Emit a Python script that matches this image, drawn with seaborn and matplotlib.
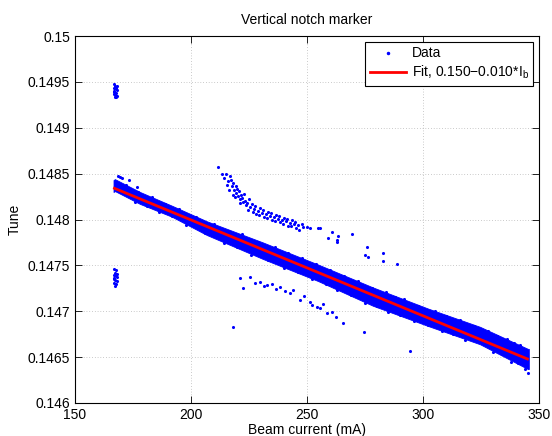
import numpy as np
import pandas as pd
import matplotlib
matplotlib.use("Agg")
import matplotlib.pyplot as plt
from matplotlib.lines import Line2D
import seaborn as sns

# --- data ---
x_ticks = [150, 200, 250, 300, 350]
y_ticks = [0.146, 0.1465, 0.147, 0.1475, 0.148, 0.1485, 0.149, 0.1495, 0.15]
y_tick_labels = ["0.146", "0.1465", "0.147", "0.1475", "0.148",
                 "0.1485", "0.149", "0.1495", "0.15"]

# dense main band (upper / lower edge of the point cloud)
band_x = [166.6, 167.2, 178.0, 191.8, 206.9, 231.0, 254.7, 278.4, 302.1, 324.6, 345.2, 345.6]
band_top = [0.14843, 0.14844, 0.14830, 0.14815, 0.14798, 0.14775, 0.14751,
            0.14726, 0.14703, 0.14683, 0.14659, 0.14659]
band_bot = [0.14830, 0.14831, 0.14817, 0.14803, 0.14783, 0.14757, 0.14733,
            0.14706, 0.14684, 0.14664, 0.14637, 0.14637]

# points along the band edges
edge_x = [176, 186, 198, 214, 226, 240, 252, 263, 275, 285, 296, 308, 318, 330, 338, 344,
          181, 192, 206, 220, 233, 246, 258, 269, 280, 290, 302, 313, 324, 334, 341,
          172, 183, 195, 210, 222, 236, 248, 260, 272, 284, 292, 305, 316, 328, 336, 342,
          177, 189, 202, 216, 229, 242, 254, 266, 278, 288, 298, 310, 322, 332, 339,
          168.5, 169.4, 170.3, 173.3, 176.7, 345.2]
edge_t = [0.14819, 0.14808, 0.14794, 0.14774, 0.14761, 0.14747, 0.14735, 0.14723,
          0.14709, 0.14699, 0.14689, 0.14678, 0.14669, 0.14656, 0.14645, 0.14637,
          0.14815, 0.14804, 0.14785, 0.14770, 0.14756, 0.14743, 0.14730, 0.14718,
          0.14706, 0.14696, 0.14685, 0.14675, 0.14666, 0.14653, 0.14644,
          0.14838, 0.14825, 0.14811, 0.14795, 0.14784, 0.14770, 0.14758, 0.14745,
          0.14733, 0.14721, 0.14713, 0.14700, 0.14691, 0.14679, 0.14670, 0.14663,
          0.14830, 0.14817, 0.14803, 0.14788, 0.14776, 0.14763, 0.14751, 0.14738,
          0.14725, 0.14716, 0.14706, 0.14695, 0.14684, 0.14673, 0.14665,
          0.14847, 0.14846, 0.14845, 0.14843, 0.14835, 0.14633]

# cluster at ~167 mA, top
c1_x = [166.8, 167.3, 167.9, 166.6, 167.5, 168.1, 167.0, 167.7, 166.7, 167.4,
        168.0, 167.1, 167.6, 166.9, 167.8]
c1_t = [0.14948, 0.14946, 0.14945, 0.14943, 0.14942, 0.14941, 0.14940, 0.14938,
        0.14937, 0.14936, 0.14935, 0.14934, 0.14933, 0.14939, 0.14943]

# cluster at ~167 mA, bottom
c2_x = [166.8, 167.5, 167.2, 168.0, 166.6, 167.7, 167.0, 167.4, 168.1, 166.9,
        167.6, 167.3, 166.7, 167.9]
c2_t = [0.14746, 0.14745, 0.14742, 0.14741, 0.14739, 0.14738, 0.14736, 0.14734,
        0.14733, 0.14731, 0.14730, 0.14728, 0.14735, 0.14737]

# upper branch
ub_x = [211.6, 213.4, 215.1, 216.8, 215.9, 217.7, 218.5, 219.4, 220.3, 221.1, 222.4,
        223.7, 225.4, 227.1, 228.9, 230.6, 232.3, 234.0, 235.8, 237.5, 239.2, 240.9,
        242.7, 244.4, 246.1,
        218.1, 219.8, 221.5, 223.3, 226.3, 229.7, 233.2, 236.6, 240.1, 243.5,
        219.0, 221.1, 224.6, 228.0, 231.5, 234.9, 238.4, 241.8, 245.3,
        214.2, 215.5, 217.2, 216.4, 218.1, 219.4, 220.7, 222.0, 222.8, 224.1,
        225.0, 226.7, 227.6, 229.3, 231.0, 232.8, 234.5, 236.2, 237.9, 239.6,
        241.4, 243.1, 244.8, 246.5, 247.8,
        248.3, 250.0, 251.3, 254.7, 255.6, 259.0, 260.8, 262.9, 263.4, 262.9,
        269.4, 275.0, 275.9, 276.3, 282.7, 282.7, 288.8]
ub_t = [0.14857, 0.14850, 0.14850, 0.14847, 0.14842, 0.14837, 0.14832, 0.14829,
        0.14826, 0.14822, 0.14819, 0.14816, 0.14814, 0.14811, 0.14809, 0.14807,
        0.14806, 0.14804, 0.14803, 0.14801, 0.14799, 0.14798, 0.14796, 0.14795,
        0.14794,
        0.14840, 0.14833, 0.14827, 0.14820, 0.14817, 0.14813, 0.14808, 0.14805,
        0.14802, 0.14799,
        0.14825, 0.14818, 0.14810, 0.14806, 0.14803, 0.14799, 0.14797, 0.14793,
        0.14791,
        0.14845, 0.14838, 0.14843, 0.14832, 0.14827, 0.14837, 0.14831, 0.14823,
        0.14828, 0.14818, 0.14822, 0.14808, 0.14815, 0.14805, 0.14810, 0.14802,
        0.14807, 0.14798, 0.14804, 0.14795, 0.14801, 0.14793, 0.14797, 0.14789,
        0.14795,
        0.14792, 0.14792, 0.14791, 0.14791, 0.14791, 0.14780, 0.14786, 0.14778,
        0.14782, 0.14775, 0.14784, 0.14761, 0.14770, 0.14759, 0.14763, 0.14755,
        0.14751]

# lower branch
lb_x = [221.1, 222.4, 225.4, 227.6, 229.7, 231.5, 232.8, 234.9, 236.6, 238.4, 240.5,
        242.7, 244.0, 247.0, 248.7, 251.3, 252.1, 254.3, 255.6, 256.9, 258.6, 260.8,
        262.5, 265.5, 274.6, 294.4, 218.1]
lb_t = [0.14736, 0.14725, 0.14737, 0.14731, 0.14732, 0.14728, 0.14729, 0.14730,
        0.14724, 0.14726, 0.14722, 0.14720, 0.14723, 0.14712, 0.14717, 0.14710,
        0.14707, 0.14705, 0.14704, 0.14708, 0.14698, 0.14699, 0.14694, 0.14687,
        0.14677, 0.14657, 0.14683]

fit_x = [167, 345]
fit_t = [0.14834, 0.14648]

pts = pd.DataFrame({
    "current": edge_x + c1_x + c2_x + ub_x + lb_x,
    "tune": edge_t + c1_t + c2_t + ub_t + lb_t,
})

plt.rcParams["font.family"] = ["Liberation Sans", "DejaVu Sans"]
plt.rcParams["mathtext.fontset"] = "custom"
plt.rcParams["mathtext.rm"] = "Liberation Sans"
plt.rcParams["mathtext.it"] = "Liberation Sans"

fig = plt.figure(figsize=(5.52, 4.36), dpi=100)
ax = fig.add_axes([0.1359, 0.0757, 0.8406, 0.8417])

ax.fill_between(band_x, band_top, band_bot, color="blue", lw=0.6, edgecolor="blue", zorder=2)
sns.scatterplot(data=pts, x="current", y="tune", color="blue", s=5, linewidth=0,
                marker="o", ax=ax, zorder=3)
sns.lineplot(x=fit_x, y=fit_t, color="red", lw=2, ax=ax, zorder=4)

ax.set_xlim(150, 350)
ax.set_ylim(0.146, 0.15)
ax.set_xticks(x_ticks)
ax.set_xticklabels([str(v) for v in x_ticks])
ax.set_yticks(y_ticks)
ax.set_yticklabels(y_tick_labels)
ax.tick_params(direction="in", top=True, right=True, labelsize=10, length=5, width=0.6)
ax.grid(True, linestyle=(0, (1, 3)), color="#999999", lw=0.5)
for s in ax.spines.values():
    s.set_linewidth(0.8)

ax.set_xlabel("Beam current (mA)", fontsize=10, labelpad=1)
ax.set_ylabel("Tune", fontsize=10, labelpad=4)
ax.set_title("Vertical notch marker", fontsize=10, pad=9)

handles = [
    Line2D([], [], marker=".", color="blue", ls="none", markersize=3),
    Line2D([], [], color="red", lw=2),
]
labels = ["Data", "Fit, 0.150\u22120.010*I$_{\\rm b}$"]
leg = ax.legend(handles, labels, loc="upper right", fontsize=10, fancybox=False,
                framealpha=1, edgecolor="black", borderaxespad=0.4,
                handlelength=2.6, borderpad=0.35, labelspacing=0.25, handletextpad=0.4)
leg.get_frame().set_linewidth(0.8)

fig.savefig("out.png", dpi=100)
